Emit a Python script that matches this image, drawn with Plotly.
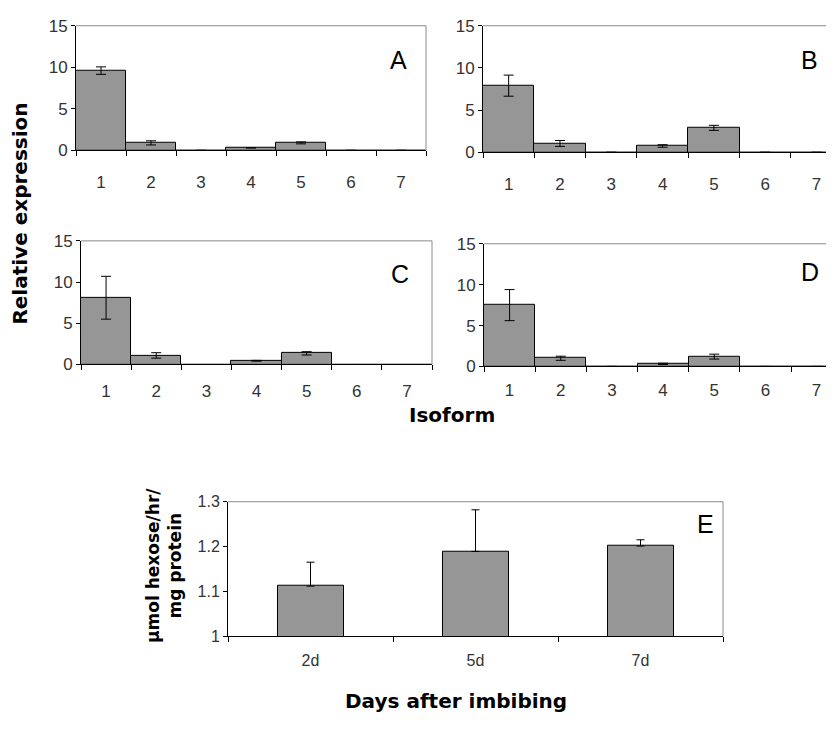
import plotly.graph_objects as go

# page is 834x729; the HTML body has an 8px margin, so the figure is drawn
# at an 8px offset and sized so that it fits the window exactly.
PAGE_W, PAGE_H = 834, 729
OFF = 8
FW, FH = PAGE_W - OFF, PAGE_H - 2 * OFF

isoforms = ["1", "2", "3", "4", "5", "6", "7"]
expr_A = [9.6, 0.9, 0, 0.3, 0.9, 0, 0]
err_A = [0.45, 0.25, 0, 0, 0.12, 0, 0]
expr_B = [7.9, 1.05, 0, 0.75, 2.9, 0, 0]
err_B = [1.25, 0.35, 0, 0.15, 0.3, 0, 0]
expr_C = [8.1, 1.1, 0, 0.45, 1.35, 0, 0]
err_C = [2.6, 0.33, 0, 0.05, 0.2, 0, 0]
expr_D = [7.5, 1.0, 0, 0.32, 1.2, 0, 0]
err_D = [1.9, 0.25, 0, 0.08, 0.3, 0, 0]

days = ["2d", "5d", "7d"]
activity_E = [1.1115, 1.189, 1.201]
err_E = [0.0535, 0.093, 0.014]

expr_ticks = [0, 5, 10, 15]
act_ticks = [1, 1.1, 1.2, 1.3]
act_tick_text = ["1", "1.1", "1.2", "1.3"]

BAR = "#969696"
FRAME = "#8a8a8a"
TICKFONT = dict(family="Liberation Sans, Arial, sans-serif", size=17, color="#333333")
TITLEFONT = dict(family="DejaVu Sans, sans-serif", size=20, color="black")


def px_x(p):
    return (p - OFF) / FW


def px_y(p):
    return 1 - (p - OFF) / FH


fig = go.Figure()

panels = [
    ("", expr_A, err_A, (76, 426), (17, 145), 6.5, "A", (398, 52), 16, True),
    ("2", expr_B, err_B, (483, 834), (17, 147), 6.34, "B", (809, 52), 16, False),
    ("3", expr_C, err_C, (81, 432), (238, 365), 6.5, "C", (400, 272), 11, True),
    ("4", expr_D, err_D, (484, 834), (241, 367), 6.34, "D", (810, 270), 8, False),
]

shapes = []
annotations = []

for key, vals, errs, xp, yp, xmax, letter, lpos, standoff, right_frame in panels:
    xa = "x" + key
    ya = "y" + key
    fig.add_trace(go.Bar(
        x=isoforms, y=vals, width=1.0,
        marker=dict(color=BAR, line=dict(color="black", width=1)),
        error_y=dict(type="data", array=errs, visible=True, color="black",
                     thickness=1, width=5),
        xaxis=xa, yaxis=ya, showlegend=False,
    ))
    fig.layout["xaxis" + key] = dict(
        domain=[px_x(xp[0]), min(1, px_x(xp[1]))], anchor=ya,
        type="category", range=[-0.5, xmax],
        tickson="boundaries", ticks="outside", ticklen=5, tickcolor="black",
        showline=True, linecolor="black", linewidth=1,
        showgrid=False, zeroline=False, tickfont=TICKFONT,
        ticklabelstandoff=standoff, fixedrange=True,
    )
    fig.layout["yaxis" + key] = dict(
        domain=[px_y(yp[1]), px_y(yp[0])], anchor=xa,
        range=[0, 15], tickvals=expr_ticks, ticks="outside", ticklen=4,
        tickcolor="black", showline=True, linecolor="black", linewidth=1,
        showgrid=False, zeroline=False, tickfont=TICKFONT, fixedrange=True,
    )
    shapes.append(dict(type="line", xref="paper", yref="paper",
                       x0=px_x(xp[0]), x1=min(1, px_x(xp[1])), y0=px_y(yp[0]), y1=px_y(yp[0]),
                       line=dict(color=FRAME, width=1)))
    if right_frame:
        shapes.append(dict(type="line", xref="paper", yref="paper",
                           x0=px_x(xp[1]), x1=px_x(xp[1]), y0=px_y(yp[0]), y1=px_y(yp[1]),
                           line=dict(color=FRAME, width=1)))
    annotations.append(dict(text=letter, x=px_x(lpos[0]), y=px_y(lpos[1]),
                            xref="paper", yref="paper", showarrow=False,
                            xanchor="center", yanchor="middle",
                            font=dict(family="Liberation Sans, Arial, sans-serif",
                                      size=25, color="black")))

# Panel E
exp_ = (228, 723)
eyp = (506, 644)
fig.add_trace(go.Bar(
    x=days, y=activity_E, width=0.4,
    marker=dict(color=BAR, line=dict(color="black", width=1)),
    error_y=dict(type="data", symmetric=False, array=err_E, arrayminus=[0, 0, 0],
                 visible=True, color="black", thickness=1, width=4),
    xaxis="x5", yaxis="y5", showlegend=False,
))
fig.layout["xaxis5"] = dict(
    domain=[px_x(exp_[0]), px_x(exp_[1])], anchor="y5", type="category",
    range=[-0.5, 2.5], tickson="boundaries", ticks="outside", ticklen=5,
    tickcolor="black", showline=True, linecolor="black", linewidth=1,
    showgrid=False, zeroline=False,
    tickfont=dict(family="Liberation Sans, Arial, sans-serif", size=16, color="#333333"),
    ticklabelstandoff=10, fixedrange=True,
)
fig.layout["yaxis5"] = dict(
    domain=[px_y(eyp[1]), px_y(eyp[0])], anchor="x5", range=[1, 1.3],
    tickvals=act_ticks, ticktext=act_tick_text, ticks="outside", ticklen=4,
    tickcolor="black", showline=True, linecolor="black", linewidth=1,
    showgrid=False, zeroline=False,
    tickfont=dict(family="Liberation Sans, Arial, sans-serif", size=16, color="#333333"),
    fixedrange=True,
)
shapes.append(dict(type="line", xref="paper", yref="paper",
                   x0=px_x(exp_[0]), x1=px_x(exp_[1]), y0=px_y(eyp[0]), y1=px_y(eyp[0]),
                   line=dict(color=FRAME, width=1)))
shapes.append(dict(type="line", xref="paper", yref="paper",
                   x0=px_x(exp_[1]), x1=px_x(exp_[1]), y0=px_y(eyp[0]), y1=px_y(eyp[1]),
                   line=dict(color=FRAME, width=1)))
annotations.append(dict(text="E", x=px_x(705), y=px_y(529), xref="paper", yref="paper",
                        showarrow=False, xanchor="center", yanchor="middle",
                        font=dict(family="Liberation Sans, Arial, sans-serif", size=25,
                                  color="black")))

annotations.append(dict(text="<b>Relative expression</b>", x=px_x(20), y=px_y(210),
                        xref="paper", yref="paper", showarrow=False, textangle=-90,
                        xanchor="center", yanchor="middle", font=TITLEFONT))
annotations.append(dict(text="<b>Isoform</b>", x=px_x(452), y=px_y(417),
                        xref="paper", yref="paper", showarrow=False,
                        xanchor="center", yanchor="middle", font=TITLEFONT))
annotations.append(dict(text="<b>Days after imbibing</b>", x=px_x(456), y=px_y(711),
                        xref="paper", yref="paper", showarrow=False,
                        xanchor="center", yanchor="middle", font=TITLEFONT))
annotations.append(dict(text="<b>µmol hexose/hr/<br>mg protein</b>", x=px_x(164), y=px_y(572),
                        xref="paper", yref="paper", showarrow=False, textangle=-90,
                        xanchor="center", yanchor="middle",
                        font=dict(family="DejaVu Sans, sans-serif", size=17, color="black")))

fig.update_layout(
    width=FW, height=FH,
    margin=dict(l=0, r=0, t=0, b=0),
    paper_bgcolor="white", plot_bgcolor="white",
    shapes=shapes, annotations=annotations,
    bargap=0, showlegend=False,
)

fig.write_html("out.html", config={"displayModeBar": False})
